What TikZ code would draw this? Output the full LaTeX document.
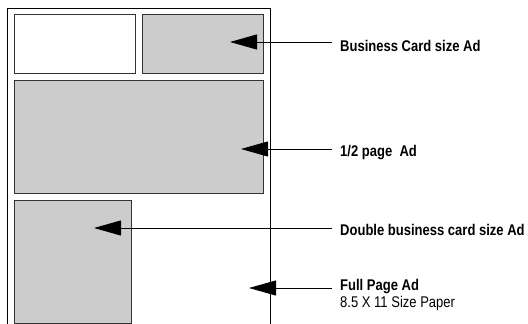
\documentclass[tikz,border=0pt]{standalone}
\usepackage{fontspec}
\newfontfamily\adfont[FakeStretch=0.84]{Liberation Sans}
\usetikzlibrary{arrows.meta,positioning,calc}
\tikzset{
    page/.style={
        draw=black,
        line width=1pt,
    },
    adbox/.style={
        rectangle,
        draw=black!80,
        line width=1.2pt,
        fill=black!20,
        anchor=north west,
        inner sep=0pt,
    },
    blankbox/.style={
        adbox,
        fill=white,
    },
    adlabel/.style={
        anchor=base west,
        inner xsep=8pt,
        inner ysep=0pt,
        font=\adfont\fontsize{15.5}{16.6}\selectfont\bfseries,
    },
    sublabel/.style={
        adlabel,
        font=\adfont\fontsize{15.5}{16.6}\selectfont,
    },
    pointer/.style={
        draw=black,
        line width=1pt,
        {Triangle[length=27pt,width=15pt]}-,
    },
}

\begin{document}
\begin{tikzpicture}[x=1pt,y=-1pt]
	    \useasboundingbox (0,0) rectangle (528,324);
	    % the page
	    \draw[page] (7,324) -- (7,8) -- (270,8) -- (270,324);
	    % the ads
	    \node [blankbox, minimum width=121pt, minimum height=59pt] (blank) at (14,14) {};
	    \node [adbox, minimum width=121pt, minimum height=59pt] (card) at (142,14) {};
	    \node [adbox, minimum width=249pt, minimum height=113pt] (half) at (14,80) {};
	    \node [adbox, minimum width=117pt, minimum height=123pt] (double) at (14,200) {};
	    % labels
	    \node [adlabel] (cardtext) at (332,51.9) {Business Card size Ad};
	    \node [adlabel] (halftext) at (332,156.9) {1/2 page \ Ad};
	    \node [adlabel] (doubletext) at (332,235.2) {Double business card size Ad};
	    \node [adlabel] (fulltext) at (332,290.9) {Full Page Ad};
	    \node [sublabel] (papertext) at (332,307.5) {8.5 X 11 Size Paper};
	    % arrow tips
	    \coordinate (cardtip) at (230,42);
	    \coordinate (halftip) at (241,149);
	    \coordinate (doubletip) at (94,228);
	    \coordinate (fulltip) at (249,288);
	    \draw[pointer] (cardtip) -- (cardtip -| cardtext.west);
	    \draw[pointer] (halftip) -- (halftip -| halftext.west);
	    \draw[pointer] (doubletip) -- (doubletip -| doubletext.west);
	    \draw[pointer] (fulltip) -- (fulltip -| fulltext.west);
	\end{tikzpicture}
\end{document}
